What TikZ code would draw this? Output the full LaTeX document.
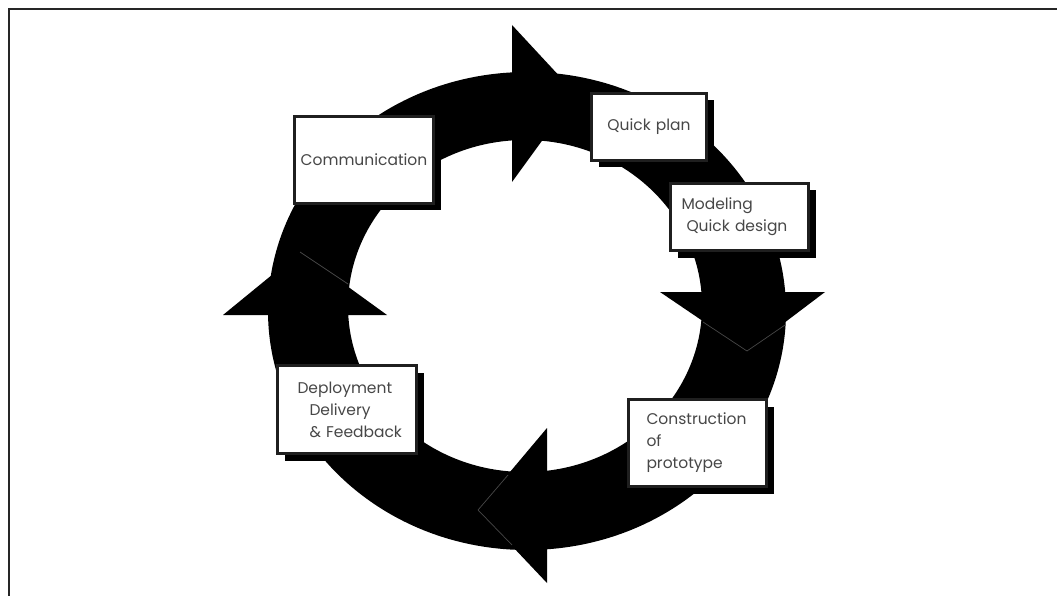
\documentclass[tikz,border=0pt]{standalone}
\usepackage{fontspec}
\setmainfont{Poppins}
\usetikzlibrary{shadows}
\begin{document}
\begin{tikzpicture}[x=1pt,y=-1pt,
  stagebox/.style={draw=black!88, line width=2.6pt, fill=white, inner sep=0pt,
    text=black!72, font=\fontsize{15.5}{22}\selectfont,
    drop shadow={shadow xshift=7pt,shadow yshift=-7pt,opacity=1,fill=black,draw=none}},
  seam/.style={draw=black!72, line width=0.7pt},
  frameline/.style={draw=black!85, line width=2.2pt}]
\path[use as bounding box, fill=white] (0,0) rectangle (1057,596);
\draw[frameline] (9,596) -- (9,9) -- (1057,9);
% ring
\fill[black, even odd rule] (527,311) ellipse [x radius=259pt, y radius=239pt]
  (525,306) ellipse [x radius=177pt, y radius=166pt];
% arrow heads
\fill[black] (512,25) -- (576,94) -- (512,182) -- cycle;
\fill[black] (660,292) -- (825,292) -- (747,351) -- cycle;
\fill[black] (547,428) -- (547,583) -- (478,510) -- cycle;
\fill[black] (223,315) -- (387,315) -- (300,252) -- cycle;
% faint seams of the heads
\draw[seam] (703,322) -- (747,351) -- (785,325);
\draw[seam] (508,475) -- (478,510) -- (512,545);
\draw[seam] (300,252) -- (348,284);
% boxes
\node[stagebox, minimum height=87pt, text width=139pt, align=center] (comm) at (364,160) {Communication};
\node[stagebox, minimum height=67pt, text width=115pt, align=center] (plan) at (649,127) {Quick plan};
\node[stagebox, minimum height=67pt, text width=138pt, align=left] (model) at (739.5,217)
  {\hspace*{11pt}Modeling\\\hspace*{16pt}Quick design};
\node[stagebox, minimum height=88pt, text width=139pt, align=left] (dep) at (347,409.5)
  {\hspace*{20pt}Deployment\\\hspace*{32pt}Delivery\\\hspace*{32pt}\& Feedback};
\node[stagebox, minimum height=87pt, text width=138pt, align=left] (cons) at (697.5,443)
  {\hspace*{18pt}Construction\\\hspace*{18pt}of\\\hspace*{18pt}prototype};
\end{tikzpicture}
\end{document}
